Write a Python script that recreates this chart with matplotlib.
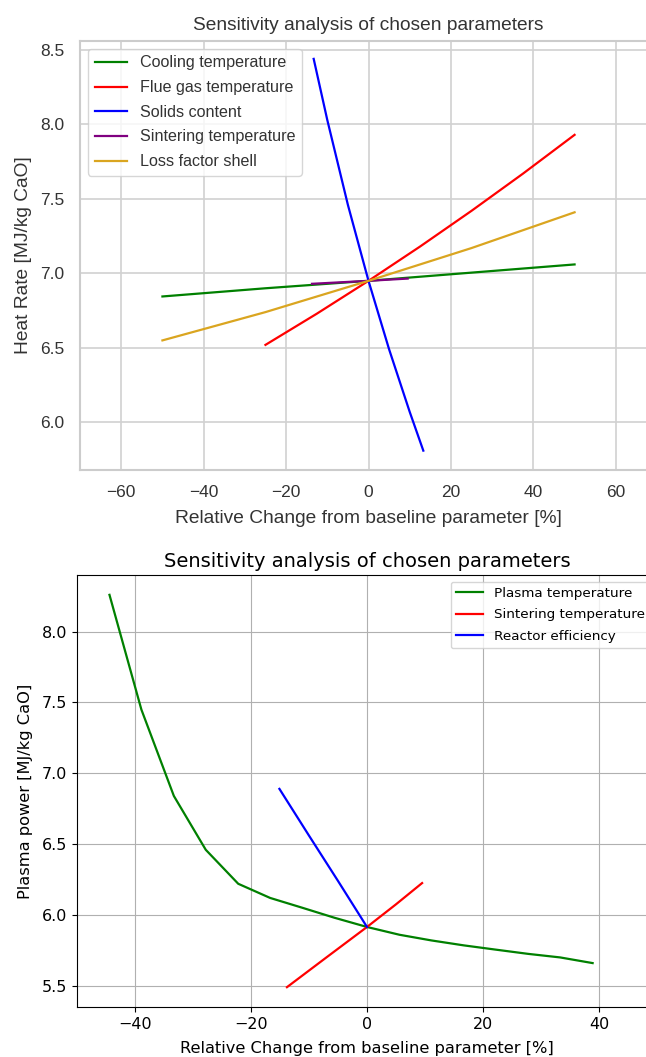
import matplotlib
matplotlib.use('Agg')
import matplotlib.pyplot as plt

# --- top chart: heat rate sensitivity ---
cool_x = [-50, -25, 0, 25, 50]
cool_y = [6.845, 6.90, 6.95, 7.005, 7.06]

flue_x = [-25, -12.5, 0, 12.5, 25, 37.5, 50]
flue_y = [6.52, 6.73, 6.95, 7.18, 7.42, 7.67, 7.93]

solids_x = [-13.3, -10, -5, 0, 5, 10, 13.3]
solids_y = [8.44, 8.03, 7.46, 6.95, 6.49, 6.07, 5.81]

sinter_x = [-13.7, 0, 9.5]
sinter_y = [6.93, 6.95, 6.965]

loss_x = [-50, -25, 0, 25, 50]
loss_y = [6.55, 6.74, 6.95, 7.17, 7.41]

# --- bottom chart: plasma power sensitivity ---
plasma_x = [-44.4, -38.9, -33.3, -27.8, -22.2, -16.7, -11.1, -5.6, 0,
            5.6, 11.1, 16.7, 22.2, 27.8, 33.3, 38.9]
plasma_y = [8.26, 7.45, 6.84, 6.46, 6.22, 6.12, 6.05, 5.98, 5.915,
            5.86, 5.82, 5.785, 5.755, 5.725, 5.70, 5.66]

sint2_x = [-13.8, -7, 0, 5, 9.5]
sint2_y = [5.49, 5.70, 5.915, 6.075, 6.225]

reac_x = [-15.1, -10, -5, 0]
reac_y = [6.89, 6.56, 6.24, 5.915]

fig = plt.figure(figsize=(6.46, 10.57), dpi=100)

# top: seaborn-like whitegrid look, Arial-ish font
top_font = 'Liberation Sans'
ax1 = fig.add_axes([80/646, 1 - 470/1057, 577/646, 429/1057])
ax1.set_facecolor('white')
ax1.plot(cool_x, cool_y, color='green', lw=1.6, label='Cooling temperature')
ax1.plot(flue_x, flue_y, color='red', lw=1.6, label='Flue gas temperature')
ax1.plot(solids_x, solids_y, color='blue', lw=1.6, label='Solids content')
ax1.plot(sinter_x, sinter_y, color='purple', lw=1.6, label='Sintering temperature')
ax1.plot(loss_x, loss_y, color='goldenrod', lw=1.6, label='Loss factor shell')
ax1.set_xlim(-70, 70)
ax1.set_ylim(5.68, 8.56)
ax1.set_xticks([-60, -40, -20, 0, 20, 40, 60])
ax1.set_yticks([6.0, 6.5, 7.0, 7.5, 8.0, 8.5])
ax1.grid(True, color='0.82', lw=1.2)
ax1.set_axisbelow(True)
for sp in ax1.spines.values():
    sp.set_color('0.8')
    sp.set_linewidth(1.5)
ax1.tick_params(length=0, labelsize=12.5, labelcolor='0.2', pad=11)
for lab in ax1.get_xticklabels() + ax1.get_yticklabels():
    lab.set_family(top_font)
ax1.set_title('Sensitivity analysis of chosen parameters', fontsize=13.8,
              family=top_font, color='0.2', pad=8)
ax1.set_xlabel('Relative Change from baseline parameter [%]', fontsize=13.8,
               family=top_font, color='0.2', labelpad=7)
ax1.set_ylabel('Heat Rate [MJ/kg CaO]', fontsize=13.8, family=top_font,
               color='0.2', labelpad=6)
leg = ax1.legend(loc='upper left', prop={'family': top_font, 'size': 11.6},
                 fancybox=True, framealpha=0.8, edgecolor='0.8',
                 borderaxespad=0.5, labelspacing=0.6)
for t in leg.get_texts():
    t.set_color('0.2')

# bottom: default matplotlib look
ax2 = fig.add_axes([77/646, 1 - 1007/1057, 580/646, 432/1057])
ax2.plot(plasma_x, plasma_y, color='green', lw=1.6, label='Plasma temperature')
ax2.plot(sint2_x, sint2_y, color='red', lw=1.6, label='Sintering temperature')
ax2.plot(reac_x, reac_y, color='blue', lw=1.6, label='Reactor efficiency')
ax2.set_xlim(-50, 50)
ax2.set_ylim(5.35, 8.40)
ax2.set_xticks([-40, -20, 0, 20, 40])
ax2.set_yticks([5.5, 6.0, 6.5, 7.0, 7.5, 8.0])
ax2.grid(True)
ax2.tick_params(labelsize=11.5)
ax2.set_title('Sensitivity analysis of chosen parameters', fontsize=14)
ax2.set_xlabel('Relative Change from baseline parameter [%]', fontsize=11.7,
               labelpad=7)
ax2.set_ylabel('Plasma power [MJ/kg CaO]', fontsize=11.7, labelpad=6)
ax2.legend(loc='upper right', fontsize=9.7, labelspacing=0.62)

plt.savefig('out.png', dpi=100)
